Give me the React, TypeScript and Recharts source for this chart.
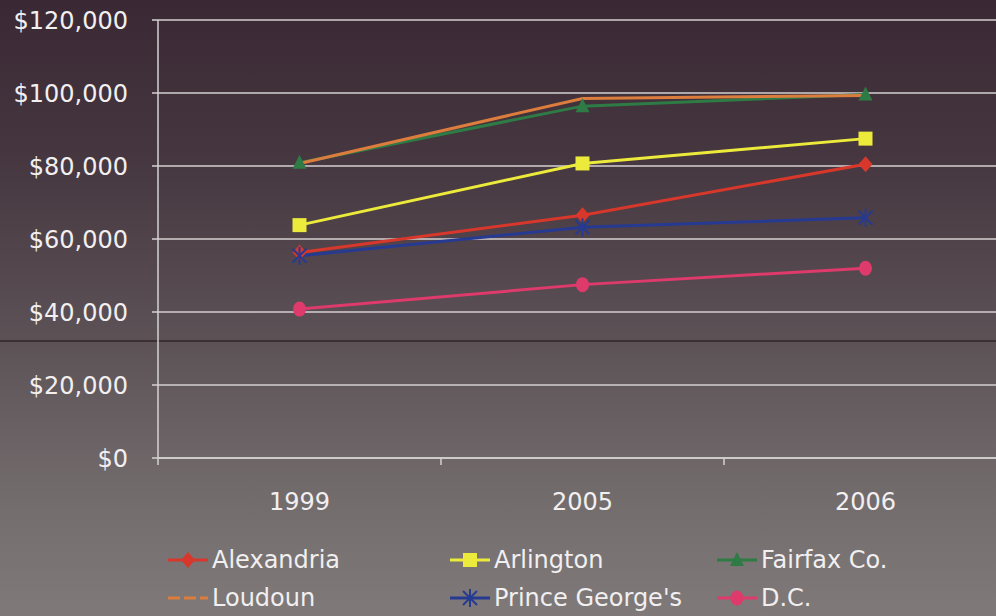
import type { JSX } from "react";
import { CartesianGrid, Line, LineChart, XAxis, YAxis } from "recharts";

const years = ["1999", "2005", "2006"];
const alexandria = [56300, 66500, 80500];
const arlington = [63800, 80700, 87500];
const fairfax = [80900, 96400, 99600];
const loudoun = [80700, 98500, 99300];
const princeGeorges = [55400, 63200, 65800];
const dc = [40800, 47500, 52000];
const yTicks = [0, 20000, 40000, 60000, 80000, 100000, 120000];

type MarkerKind = "diamond" | "square" | "triangle" | "none" | "asterisk" | "circle";

const series: { key: string; name: string; color: string; marker: MarkerKind; values: number[] }[] = [
  { key: "alexandria", name: "Alexandria", color: "#d8372b", marker: "diamond", values: alexandria },
  { key: "arlington", name: "Arlington", color: "#ecea3a", marker: "square", values: arlington },
  { key: "fairfax", name: "Fairfax Co.", color: "#2e7b45", marker: "triangle", values: fairfax },
  { key: "loudoun", name: "Loudoun", color: "#dc7d3e", marker: "none", values: loudoun },
  { key: "pg", name: "Prince George's", color: "#263a92", marker: "asterisk", values: princeGeorges },
  { key: "dc", name: "D.C.", color: "#de3a6c", marker: "circle", values: dc },
];

const data = years.map((year, i) => {
  const row: Record<string, string | number> = { year };
  series.forEach((s) => {
    row[s.key] = s.values[i];
  });
  return row;
});

const FONT = "'DejaVu Sans', Verdana, sans-serif";
const TEXT = "#f2eff0";

function Marker({ cx, cy, kind, color }: { cx: number; cy: number; kind: MarkerKind; color: string }) {
  if (kind === "diamond")
    return <polygon points={`${cx},${cy - 8} ${cx + 7},${cy} ${cx},${cy + 8} ${cx - 7},${cy}`} fill={color} />;
  if (kind === "square") return <rect x={cx - 7} y={cy - 7} width={14} height={14} fill={color} />;
  if (kind === "triangle")
    return <polygon points={`${cx},${cy - 8} ${cx + 7},${cy + 6} ${cx - 7},${cy + 6}`} fill={color} />;
  if (kind === "circle") return <ellipse cx={cx} cy={cy} rx={6.5} ry={7.5} fill={color} />;
  if (kind === "asterisk")
    return (
      <g stroke={color} strokeWidth={2}>
        <line x1={cx} y1={cy - 9} x2={cx} y2={cy + 9} />
        <line x1={cx - 7} y1={cy - 7} x2={cx + 7} y2={cy + 7} />
        <line x1={cx - 7} y1={cy + 7} x2={cx + 7} y2={cy - 7} />
      </g>
    );
  return <g />;
}

function XTick(props: any) {
  const { x, y, payload } = props;
  const off = payload.offset ?? 0;
  return (
    <g>
      <line x1={x - off} x2={x - off} y1={y} y2={y + 7} stroke="#d6d2d3" strokeWidth={1.5} />
      <text x={x} y={y + 52} textAnchor="middle" fill={TEXT} fontSize={24} fontFamily={FONT}>
        {payload.value}
      </text>
    </g>
  );
}

const money = (v: number) => "$" + v.toLocaleString("en-US");

export default function App(): JSX.Element {
  return (
    <div
      style={{
        position: "absolute",
        left: 0,
        top: 0,
        width: 996,
        height: 616,
        overflow: "hidden",
        background: "linear-gradient(180deg, #3a2934 0%, #45363f 25%, #5c5256 55%, #726b6c 80%, #7f7a79 100%)",
        fontFamily: FONT,
      }}
    >
      <div style={{ position: "absolute", left: 0, top: 340, width: 996, height: 2, background: "#3b3036" }} />
      <div style={{ position: "absolute", left: 0, top: 0 }}>
        <LineChart width={1010} height={616} data={data} margin={{ top: 20, right: 3, bottom: 98, left: 0 }}>
          <CartesianGrid vertical={false} stroke="#d4d0d1" strokeWidth={1.5} />
          <XAxis
            dataKey="year"
            scale="band"
            height={60}
            tickLine={false}
            tickSize={0}
            tickMargin={0}
            axisLine={{ stroke: "#d6d2d3", strokeWidth: 1.5 }}
            tick={<XTick />}
            interval={0}
          />
          <YAxis
            width={158}
            domain={[0, 120000]}
            ticks={yTicks}
            tickFormatter={money}
            tickSize={6}
            tickMargin={24}
            axisLine={{ stroke: "#d6d2d3", strokeWidth: 1.5 }}
            tickLine={{ stroke: "#d6d2d3", strokeWidth: 1.5 }}
            tick={{ fill: TEXT, fontSize: 24, fontFamily: FONT }}
          />
          {series.map((s) => (
            <Line
              key={s.key}
              dataKey={s.key}
              name={s.name}
              stroke={s.color}
              strokeWidth={3}
              isAnimationActive={false}
              dot={(p: any) => <Marker key={`${s.key}-${p.index}`} cx={p.cx} cy={p.cy} kind={s.marker} color={s.color} />}
              activeDot={false}
            />
          ))}
        </LineChart>
      </div>
      <div style={{ position: "absolute", left: 0, top: 0 }}>
        {series.map((s, i) => {
          const col = i % 3;
          const row = Math.floor(i / 3);
          const left = [166, 448, 715][col];
          const top = 544 + row * 38;
          return (
            <div
              key={s.key}
              style={{ position: "absolute", left, top, display: "flex", alignItems: "center", height: 32, whiteSpace: "nowrap" }}
            >
              <svg width={44} height={32}>
                <line
                  x1={2}
                  x2={42}
                  y1={16}
                  y2={16}
                  stroke={s.color}
                  strokeWidth={3}
                  strokeDasharray={s.marker === "none" ? "12 4" : undefined}
                />
                <Marker cx={22} cy={16} kind={s.marker} color={s.color} />
              </svg>
              <span style={{ color: TEXT, fontSize: 24, marginLeft: 2 }}>{s.name}</span>
            </div>
          );
        })}
      </div>
    </div>
  );
}
